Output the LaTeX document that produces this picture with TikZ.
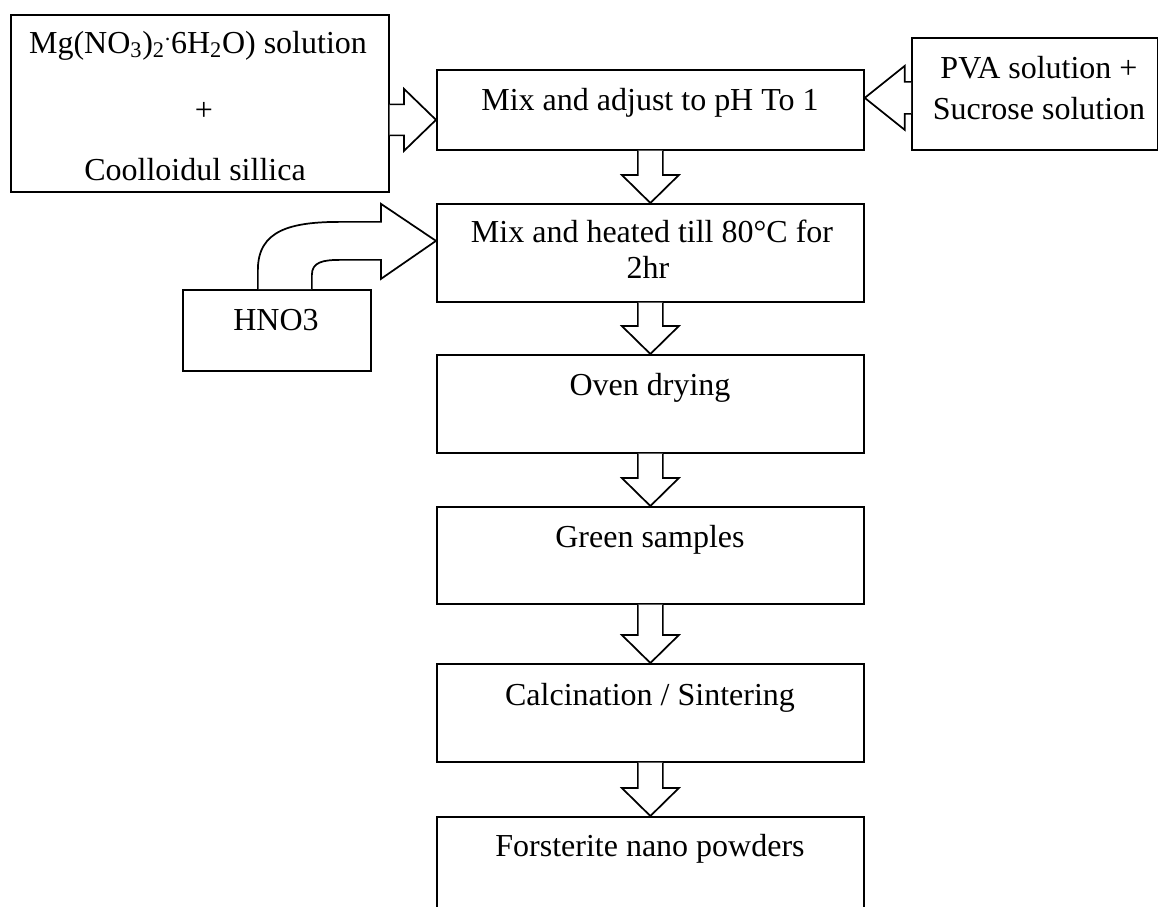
\documentclass[tikz,border=0pt]{standalone}
\usepackage{fontspec}
\setmainfont{Liberation Serif}
\usetikzlibrary{calc}

% vertical block arrow from the bottom of one box to the top of the next
\newcommand\flowdown[2]{%
  \draw[blk] ($(#1.south)+(-12.5,0)$) -- ($(#2.north)+(-12.5,-28)$)
    -- ($(#2.north)+(-28.5,-28)$) -- (#2.north) -- ($(#2.north)+(28.5,-28)$)
    -- ($(#2.north)+(12.5,-28)$) -- ($(#1.south)+(12.5,0)$);}

\begin{document}
\begin{tikzpicture}[x=0.75pt,y=-0.75pt,
  box/.style={draw, line width=1.3pt, inner sep=0pt, anchor=north west},
  lbl/.style={anchor=base, inner sep=0pt, font=\fontsize{24}{27}\selectfont},
  blk/.style={draw, line width=1.3pt, line join=miter, fill=white}]
\useasboundingbox (0,0) rectangle (1158,907);

% boxes
\node[box, minimum width=378*0.75pt, minimum height=177*0.75pt] (mg) at (10,14) {};
\node[box, minimum width=427*0.75pt, minimum height=80*0.75pt] (mixA) at (436,69) {};
\node[box, minimum width=246*0.75pt, minimum height=112*0.75pt] (pva) at (911,37) {};
\node[box, minimum width=427*0.75pt, minimum height=98*0.75pt] (mixB) at (436,203) {};
\node[box, minimum width=188*0.75pt, minimum height=81*0.75pt] (hno) at (182,289) {};
\node[box, minimum width=427*0.75pt, minimum height=98*0.75pt] (oven) at (436,354) {};
\node[box, minimum width=427*0.75pt, minimum height=97*0.75pt] (green) at (436,506) {};
\node[box, minimum width=427*0.75pt, minimum height=98*0.75pt] (calc) at (436,663) {};
\node[box, minimum width=427*0.75pt, minimum height=130*0.75pt] (forst) at (436,816) {};

% texts
\node[lbl] (mgt1) at (198,53) {Mg(NO\textsubscript{3})\textsubscript{2}\textsuperscript{.}6H\textsubscript{2}O) solution};
\node[lbl] (mgt2) at (204,120) {+};
\node[lbl] (mgt3) at (195,180) {Coolloidul sillica};
\node[lbl] (mixAt) at (650,110) {Mix and adjust to pH To 1};
\node[lbl] (pvat1) at (1039,78) {PVA solution +};
\node[lbl] (pvat2) at (1039,119) {Sucrose solution};
\node[lbl] (mixBt1) at (652,242) {Mix and heated till 80°C for};
\node[lbl] (mixBt2) at (648,278) {2hr};
\node[lbl] (hnot) at (276,330) {HNO3};
\node[lbl] (ovent) at (650,395) {Oven drying};
\node[lbl] (greent) at (650,547) {Green samples};
\node[lbl] (calct) at (650,705) {Calcination / Sintering};
\node[lbl] (forstt) at (650,856) {Forsterite nano powders};

% side inputs
\coordinate (t1) at ($(mixA.west)+(0,10)$);
\draw[blk] ($(mg.east |- t1)+(0,-15.5)$) -- ($(t1)+(-32,-15.5)$) -- ($(t1)+(-32,-31)$)
  -- (t1) -- ($(t1)+(-32,31)$) -- ($(t1)+(-32,15.5)$) -- ($(mg.east |- t1)+(0,15.5)$);

\coordinate (t2) at ($(mixA.east)+(0,-12)$);
\draw[blk] ($(pva.west |- t2)+(0,-16)$) -- ($(t2)+(40,-16)$) -- ($(t2)+(40,-32)$)
  -- (t2) -- ($(t2)+(40,32)$) -- ($(t2)+(40,16)$) -- ($(pva.west |- t2)+(0,16)$);

% curved arrow from HNO3
\coordinate (t3) at ($(mixB.west)+(0,-12)$);
\coordinate (h1) at ($(hno.north)+(-19,0)$);
\coordinate (h2) at ($(hno.north)+(35,0)$);
\draw[blk] (h1) -- ($(h1)+(0,-19)$)
  .. controls ($(h1)+(0,-59)$) and ($(h1 |- t3)+(33,-19)$) .. ($(h1 |- t3)+(83,-19)$)
  -- ($(t3)+(-55,-19)$) -- ($(t3)+(-55,-37)$) -- (t3) -- ($(t3)+(-55,38)$)
  -- ($(t3)+(-55,19)$) -- ($(h2 |- t3)+(29,19)$)
  .. controls ($(h2 |- t3)+(11,19)$) and ($(h2)+(0,-27)$) .. ($(h2)+(0,-14)$) -- (h2);

% main sequence
\flowdown{mixA}{mixB}
\flowdown{mixB}{oven}
\flowdown{oven}{green}
\flowdown{green}{calc}
\flowdown{calc}{forst}
\end{tikzpicture}
\end{document}
